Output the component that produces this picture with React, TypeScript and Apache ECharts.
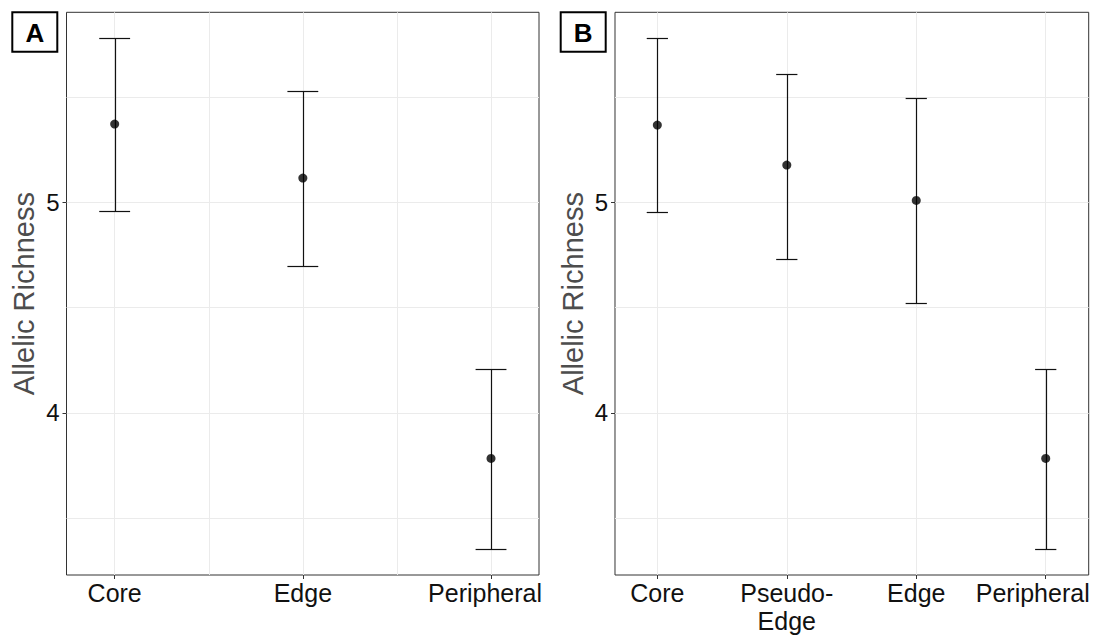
import React, { useEffect, useRef } from "react";
import * as echarts from "echarts";

// Panel A
const catsA = ["Core", "Edge", "Peripheral"];
const meanA = [5.372, 5.115, 3.783];
const lowA = [4.957, 4.699, 3.352];
const highA = [5.779, 5.528, 4.208];

// Panel B
const catsB = ["Core", "Pseudo-\nEdge", "Edge", "Peripheral"];
const meanB = [5.367, 5.177, 5.009, 3.783];
const lowB = [4.952, 4.732, 4.521, 3.352];
const highB = [5.779, 5.611, 5.494, 4.208];

const yTicks = [4, 5];
const yMinorGrid = [3.5, 4.5, 5.5];
const yMin = 3.229;
const yMax = 5.903;
const yTitle = "Allelic Richness";
const panelLabels = ["A", "B"];

const FONT = "'Liberation Sans', Arial, sans-serif";

export default function App() {
  const ref = useRef<HTMLDivElement>(null);
  useEffect(() => {
    document.body.style.margin = "0";
    const chart = echarts.init(ref.current!, null, { renderer: "svg" });

    const panels = [
      { cats: catsA, mean: meanA, low: lowA, high: highA, xMin: -0.256, xMax: 2.255, midGrid: [0.5, 1.5], lastShift: 12 },
      { cats: catsB, mean: meanB, low: lowB, high: highB, xMin: -0.327, xMax: 3.332, midGrid: [] as number[], lastShift: 26 },
    ];
    const grids = [
      { left: 66.5, top: 12.3, width: 472.5, height: 562.7 },
      { left: 615, top: 12.3, width: 473.7, height: 562.7 },
    ];

    const xAxes: any[] = [];
    const yAxes: any[] = [];
    const series: any[] = [];

    panels.forEach((p, i) => {
      const xVals = p.cats.map((_, k) => k);
      const last = p.cats.length - 1;
      xAxes.push({
        type: "value",
        gridIndex: i,
        position: "bottom",
        min: p.xMin,
        max: p.xMax,
        axisLine: { show: false, onZero: false },
        splitLine: { show: false },
        axisTick: { show: true, customValues: xVals, length: 4, lineStyle: { color: "#333", width: 1 } },
        axisLabel: {
          customValues: xVals,
          formatter: (v: number) => {
            const k = Math.round(v);
            return k === last ? "{s|" + p.cats[k] + "}" : p.cats[k];
          },
          fontSize: 25,
          lineHeight: 28,
          color: "#111",
          fontFamily: FONT,
          margin: 4,
          align: "center",
          rich: {
            s: { fontSize: 25, lineHeight: 28, fontFamily: FONT, color: "#111", padding: [0, p.lastShift, 0, 0] },
          },
        },
      });
      yAxes.push({
        type: "value",
        gridIndex: i,
        position: "left",
        min: yMin,
        max: yMax,
        axisLine: { show: false, onZero: false },
        splitLine: { show: false },
        axisTick: { show: true, customValues: yTicks, length: 4, lineStyle: { color: "#333", width: 1 } },
        axisLabel: {
          customValues: yTicks,
          fontSize: 24,
          color: "#111",
          fontFamily: FONT,
          margin: 7,
        },
        name: yTitle,
        nameLocation: "middle",
        nameGap: 28,
        nameTextStyle: { fontSize: 29, color: "#4d4d4d", fontFamily: FONT },
      });

      // grid lines
      const gridData: any[] = [];
      xVals.forEach((v) => gridData.push({ xAxis: v }));
      p.midGrid.forEach((v) => gridData.push({ xAxis: v }));
      yTicks.forEach((v) => gridData.push({ yAxis: v }));
      yMinorGrid.forEach((v) => gridData.push({ yAxis: v }));
      series.push({
        type: "scatter",
        xAxisIndex: i,
        yAxisIndex: i,
        data: [],
        z: 0,
        silent: true,
        markLine: {
          z: 0,
          silent: true,
          symbol: ["none", "none"],
          label: { show: false },
          lineStyle: { color: "#ebebeb", width: 1, type: "solid" },
          emphasis: { disabled: true },
          data: gridData,
        },
      });

      // error bars
      series.push({
        type: "custom",
        xAxisIndex: i,
        yAxisIndex: i,
        z: 10,
        silent: true,
        data: xVals.map((x, k) => [x, p.low[k], p.high[k]]),
        encode: { x: 0, y: [1, 2] },
        renderItem: (params: any, api: any) => {
          const x = api.value(0);
          const lo = api.coord([x, api.value(1)]);
          const hi = api.coord([x, api.value(2)]);
          const capL = api.coord([x - 0.082, api.value(1)])[0];
          const capR = api.coord([x + 0.082, api.value(1)])[0];
          const cx = Math.round(lo[0]) + 0.5;
          const yl = Math.round(lo[1]) + 0.5;
          const yh = Math.round(hi[1]) + 0.5;
          const style = { stroke: "#111", lineWidth: 1.2 };
          return {
            type: "group",
            children: [
              { type: "line", shape: { x1: cx, y1: yl, x2: cx, y2: yh }, style },
              { type: "line", shape: { x1: capL, y1: yh, x2: capR, y2: yh }, style },
              { type: "line", shape: { x1: capL, y1: yl, x2: capR, y2: yl }, style },
            ],
          };
        },
      });

      // points
      series.push({
        type: "scatter",
        xAxisIndex: i,
        yAxisIndex: i,
        z: 11,
        silent: true,
        symbol: "circle",
        symbolSize: 9,
        itemStyle: { color: "#000" },
        data: xVals.map((x, k) => [x, p.mean[k]]),
      });
    });

    const labelBoxes = [
      { x: 12.3, y: 12.3 },
      { x: 560.7, y: 12.3 },
    ];

    chart.setOption({
      animation: false,
      backgroundColor: "#fff",
      grid: grids.map((g) => ({
        ...g,
        show: true,
        borderColor: "#333",
        borderWidth: 1,
        backgroundColor: "#fff",
        containLabel: false,
        outerBoundsMode: "none",
      })),
      xAxis: xAxes,
      yAxis: yAxes,
      series,
      graphic: labelBoxes.map((b, i) => ({
        type: "group",
        x: b.x,
        y: b.y,
        z: 20,
        children: [
          { type: "rect", shape: { x: 0, y: 0, width: 45, height: 39.4 }, style: { fill: "#fff", stroke: "#000", lineWidth: 2 } },
          {
            type: "text",
            x: 22.5,
            y: 20.5,
            style: { text: panelLabels[i], fontSize: 26, fontWeight: "bold", fontFamily: FONT, fill: "#000", align: "center", verticalAlign: "middle" },
          },
        ],
      })),
    });
    return () => chart.dispose();
  }, []);
  return <div ref={ref} style={{ width: 1093, height: 635 }} />;
}
